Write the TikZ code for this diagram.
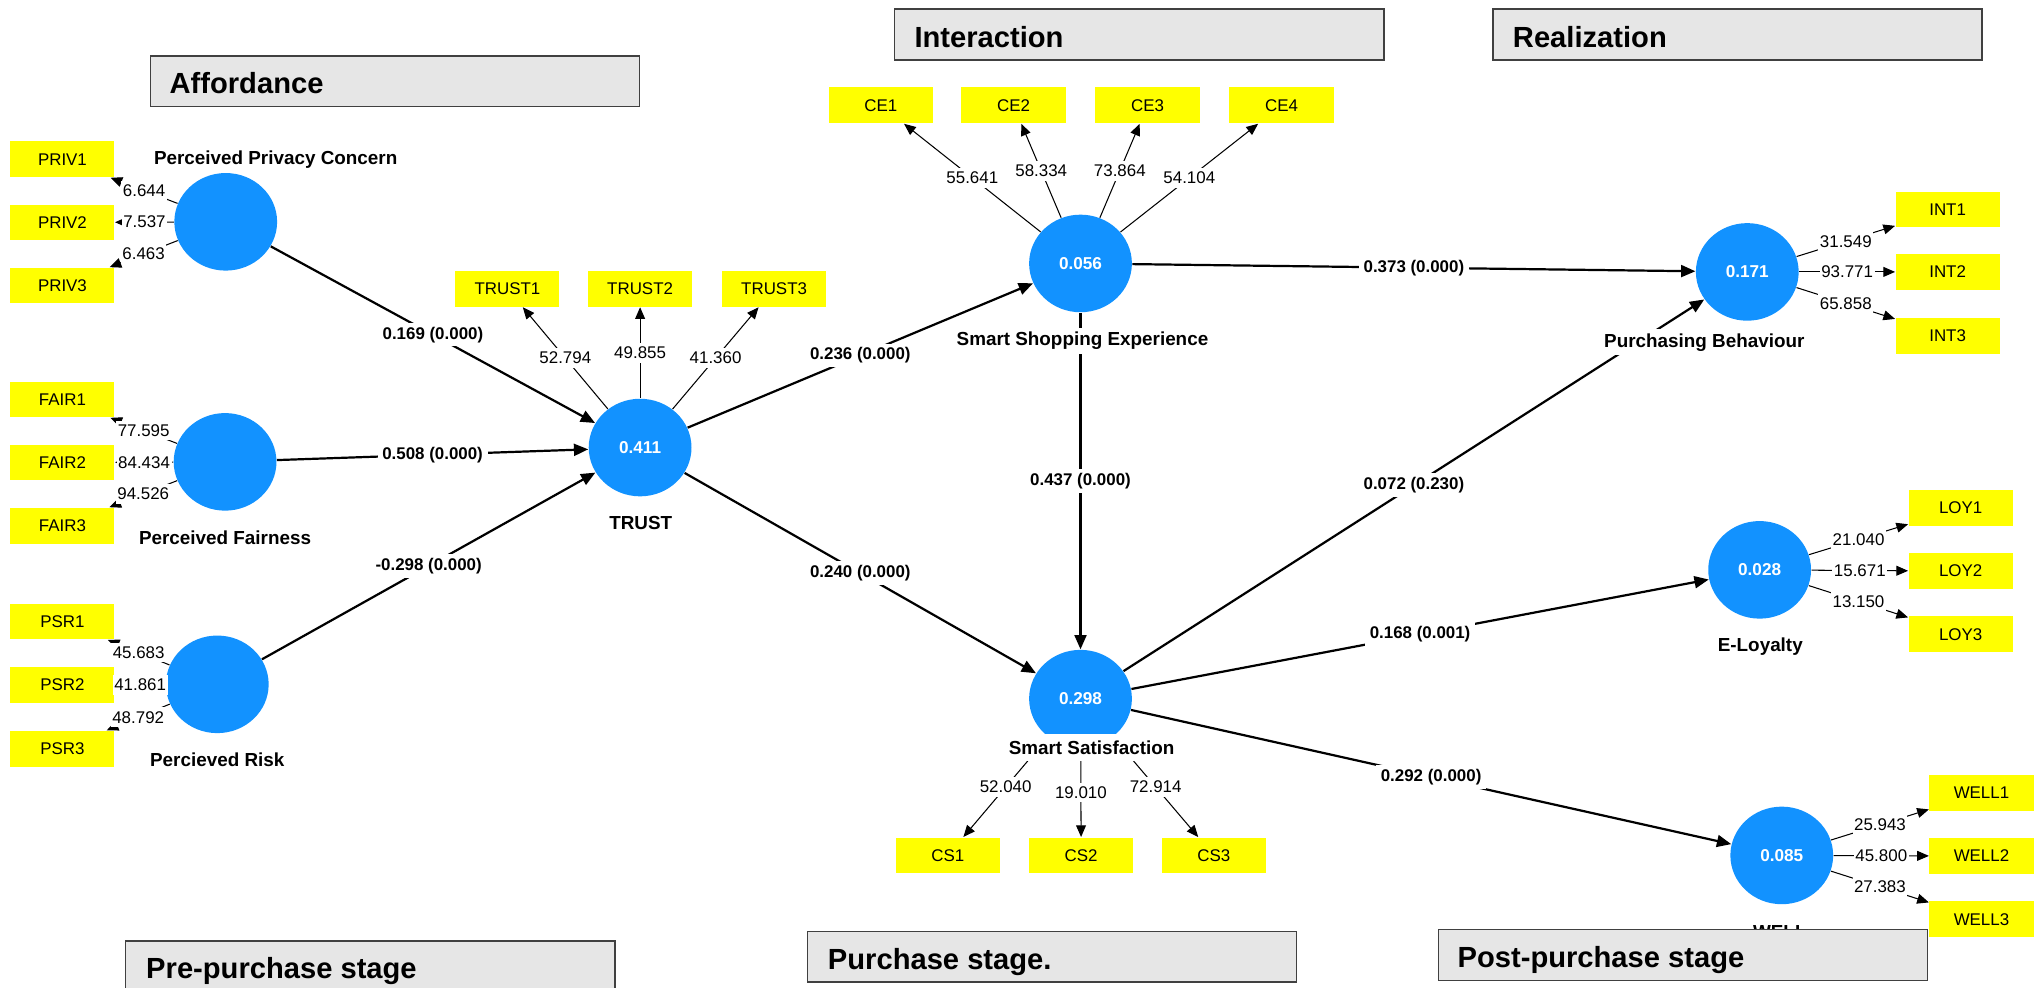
\documentclass[tikz,border=0pt]{standalone}
\usepackage{fontspec}
\setmainfont{Liberation Sans}
\usetikzlibrary{arrows.meta,shapes.geometric}

\definecolor{lvblue}{RGB}{18,146,255}
\definecolor{indyellow}{RGB}{255,255,0}
\definecolor{hdrgray}{RGB}{230,230,230}

\begin{document}
\begin{tikzpicture}[x=0.5pt,y=-0.5pt,
  lv/.style={ellipse, fill=lvblue, minimum width=39.5pt, minimum height=37.5pt,
    inner sep=0pt, text=white, font=\fontsize{6.6}{7}\selectfont\bfseries},
  ind/.style={rectangle, fill=indyellow, minimum width=40pt, minimum height=13.75pt,
    inner sep=0pt, font=\fontsize{6.5}{7}\selectfont},
  lvname/.style={fill=white, inner xsep=1pt, inner ysep=1.5pt,
    font=\fontsize{7.25}{8}\selectfont\bfseries},
  coef/.style={fill=white, inner xsep=1.8pt, inner ysep=1.5pt,
    font=\fontsize{6.5}{7}\selectfont\bfseries},
  wt/.style={fill=white, inner xsep=0.6pt, inner ysep=1.5pt,
    font=\fontsize{6.5}{7}\selectfont},
  structpath/.style={line width=0.85pt, -{Triangle[length=5.5pt,width=4.6pt]}},
  loadpath/.style={line width=0.4pt, -{Triangle[length=4.5pt,width=3.8pt]}},
  stagebox/.style={draw=black!75, line width=0.6pt, fill=hdrgray, anchor=north west,
    minimum width=188pt, minimum height=19.5pt, inner sep=0pt},
  stagetext/.style={anchor=base west, inner sep=0pt,
    font=\fontsize{11.2}{13}\selectfont\bfseries}
]
\useasboundingbox (0,0) rectangle (1568,759);
\clip (0,0) rectangle (1568,759);

% latent variables
\node[lv] (ppc)   at (173.5,170.5) {};
\node[lv] (pf)    at (173,355)     {};
\node[lv] (pr)    at (167,526)     {};
\node[lv] (trust) at (492,344)     {0.411};
\node[lv] (sse)   at (830.5,202.5) {0.056};
\node[lv] (ss)    at (830.5,537)   {0.298};
\node[lv] (pb)    at (1343,209)    {0.171};
\node[lv] (el)    at (1352.5,438)  {0.028};
\node[lv] (well)  at (1369.5,657.5){0.085};

% indicators
\node[ind] (priv1) at (48,122.5) {PRIV1};
\node[ind] (priv2) at (48,171)   {PRIV2};
\node[ind] (priv3) at (48,219.5) {PRIV3};
\node[ind] (fair1) at (48,307)   {FAIR1};
\node[ind] (fair2) at (48,355.5) {FAIR2};
\node[ind] (fair3) at (48,404)   {FAIR3};
\node[ind] (psr1)  at (48,477.7) {PSR1};
\node[ind] (psr2)  at (48,526.5) {PSR2};
\node[ind] (psr3)  at (48,575.5) {PSR3};
\node[ind] (tr1) at (390,222) {TRUST1};
\node[ind] (tr2) at (492,222) {TRUST2};
\node[ind] (tr3) at (595,222) {TRUST3};
\node[ind] (ce1) at (677,81) {CE1};
\node[ind] (ce2) at (779,81) {CE2};
\node[ind] (ce3) at (882,81) {CE3};
\node[ind] (ce4) at (985,81) {CE4};
\node[ind] (cs1) at (728.5,657.5) {CS1};
\node[ind] (cs2) at (831,657.5)   {CS2};
\node[ind] (cs3) at (933,657.5)   {CS3};
\node[ind] (int1) at (1497,161) {INT1};
\node[ind] (int2) at (1497,209) {INT2};
\node[ind] (int3) at (1497,258) {INT3};
\node[ind] (loy1) at (1507,390.5) {LOY1};
\node[ind] (loy2) at (1507,439)   {LOY2};
\node[ind] (loy3) at (1507,487.5) {LOY3};
\node[ind] (wel1) at (1523,609.5) {WELL1};
\node[ind] (wel2) at (1523,658)   {WELL2};
\node[ind] (wel3) at (1523,706.5) {WELL3};

% outer loadings
\draw[loadpath] (ppc) -- node[wt] (w1) {6.644} (priv1);
\draw[loadpath] (ppc) -- node[wt] (w2) {7.537} (priv2);
\draw[loadpath] (ppc) -- node[wt] (w3) {6.463} (priv3);
\draw[loadpath] (pf) -- node[wt] (w4) {77.595} (fair1);
\draw[loadpath] (pf) -- node[wt] (w5) {84.434} (fair2);
\draw[loadpath] (pf) -- node[wt] (w6) {94.526} (fair3);
\draw[loadpath] (pr) -- node[wt] (w7) {45.683} (psr1);
\draw[loadpath] (pr) -- node[wt] (w8) {41.861} (psr2);
\draw[loadpath] (pr) -- node[wt] (w9) {48.792} (psr3);
\draw[loadpath] (trust) -- node[wt] (w10) {52.794} (tr1);
\draw[loadpath] (trust) -- node[wt] (w11) {49.855} (tr2);
\draw[loadpath] (trust) -- node[wt] (w12) {41.360} (tr3);
\draw[loadpath] (sse) -- node[wt] (w13) {55.641} (ce1);
\draw[loadpath] (sse) -- node[wt] (w14) {58.334} (ce2);
\draw[loadpath] (sse) -- node[wt] (w15) {73.864} (ce3);
\draw[loadpath] (sse) -- node[wt] (w16) {54.104} (ce4);
\draw[loadpath] (ss) -- node[wt] (w17) {52.040} (cs1);
\draw[loadpath] (ss) -- node[wt] (w18) {19.010} (cs2);
\draw[loadpath] (ss) -- node[wt] (w19) {72.914} (cs3);
\draw[loadpath] (pb) -- node[wt] (w20) {31.549} (int1);
\draw[loadpath] (pb) -- node[wt] (w21) {93.771} (int2);
\draw[loadpath] (pb) -- node[wt] (w22) {65.858} (int3);
\draw[loadpath] (el) -- node[wt] (w23) {21.040} (loy1);
\draw[loadpath] (el) -- node[wt] (w24) {15.671} (loy2);
\draw[loadpath] (el) -- node[wt] (w25) {13.150} (loy3);
\draw[loadpath] (well) -- node[wt] (w26) {25.943} (wel1);
\draw[loadpath] (well) -- node[wt] (w27) {45.800} (wel2);
\draw[loadpath] (well) -- node[wt] (w28) {27.383} (wel3);

% structural paths
\draw[structpath] (ppc) -- node[coef] (c1) {0.169 (0.000)} (trust);
\draw[structpath] (pf) -- node[coef] (c2) {0.508 (0.000)} (trust);
\draw[structpath] (pr) -- node[coef] (c3) {-0.298 (0.000)} (trust);
\draw[structpath] (trust) -- node[coef] (c4) {0.236 (0.000)} (sse);
\draw[structpath] (trust) -- node[coef] (c5) {0.240 (0.000)} (ss);
\draw[structpath] (sse) -- node[coef] (c6) {0.437 (0.000)} (ss);
\draw[structpath] (sse) -- node[coef] (c7) {0.373 (0.000)} (pb);
\draw[structpath] (ss) -- node[coef] (c8) {0.072 (0.230)} (pb);
\draw[structpath] (ss) -- node[coef] (c9) {0.168 (0.001)} (el);
\draw[structpath] (ss) -- node[coef] (c10) {0.292 (0.000)} (well);

% construct names
\node[lvname, anchor=west] (n1) at (116,123) {Perceived Privacy Concern};
\node[lvname] (n2) at (173,413.5) {Perceived Fairness};
\node[lvname] (n3) at (167,584) {Percieved Risk};
\node[lvname] (n4) at (492.5,402) {TRUST};
\node[lvname] (n5) at (832,262) {Smart Shopping Experience};
\node[lvname, inner ysep=2.5pt] (n6) at (839,574.5) {Smart Satisfaction};
\node[lvname] (n7) at (1310,263) {Purchasing Behaviour};
\node[lvname] (n8) at (1353,497) {E-Loyalty};
\node[lvname] (n9) at (1368,716) {WELL};

% stage headers
\node[stagebox] (s1) at (115,42.3) {};
\node[stagetext] (t1) at (130,71.7) {Affordance};
\node[stagebox] (s2) at (687,6.4) {};
\node[stagetext] (t2) at (702.5,36.6) {Interaction};
\node[stagebox] (s3) at (1147,6.4) {};
\node[stagetext] (t3) at (1162.5,36.6) {Realization};
\node[stagebox] (s4) at (96,722.5) {};
\node[stagetext] (t4) at (112,752) {Pre-purchase stage};
\node[stagebox] (s5) at (620,715.3) {};
\node[stagetext] (t5) at (636,744.8) {Purchase stage.};
\node[stagebox] (s6) at (1105,714) {};
\node[stagetext] (t6) at (1120,743.5) {Post-purchase stage};
\end{tikzpicture}
\end{document}
